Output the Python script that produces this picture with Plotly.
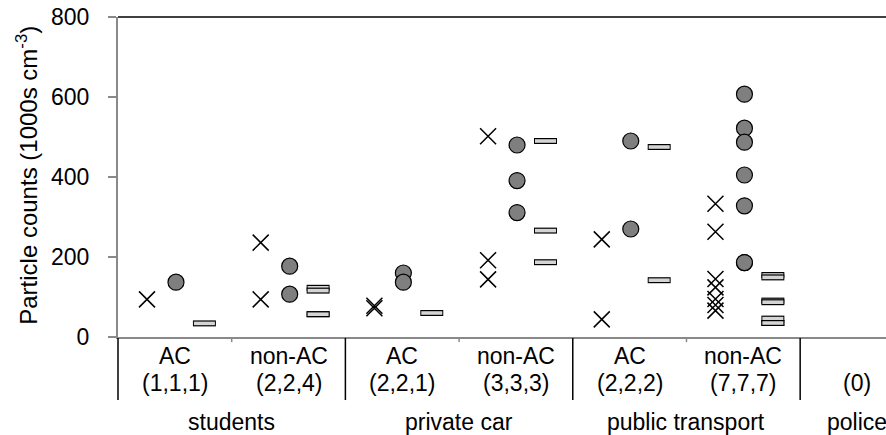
import plotly.graph_objects as go

FONT = "Liberation Sans, Arial, sans-serif"

# ---- data ----
cat_labels = ["AC", "non-AC", "AC", "non-AC", "AC", "non-AC", ""]
n_labels = ["(1,1,1)", "(2,2,4)", "(2,2,1)", "(3,3,3)", "(2,2,2)", "(7,7,7)", "(0)"]
group_labels = ["students", "private car", "public transport", "police"]
group_members = [[0, 1], [2, 3], [4, 5], [6]]

cross_vals = [[94], [236, 94], [78, 72], [502, 192, 144], [244, 44],
              [333, 263, 145, 124, 95, 80, 66], []]
circle_vals = [[137], [177, 107], [160, 137], [480, 391, 311], [490, 270],
               [607, 522, 487, 405, 328, 186, 186], []]
dash_vals = [[34], [123, 116, 57, 57], [60], [490, 266, 187], [475, 142],
             [155, 149, 91, 87, 46, 35, 35], []]

y_ticks = [0, 200, 400, 600, 800]
y_title = "Particle counts (1000s cm<sup>-3</sup>)"

# ---- layout constants ----
X_RANGE = [-0.5, 6.255]
OFF_CROSS, OFF_CIRCLE, OFF_DASH = -0.245, 0.01, 0.26
GRAY = "#898989"
TXT = 23


def flatten(vals, off):
    xs, ys = [], []
    for i, v in enumerate(vals):
        for y in v:
            xs.append(i + off)
            ys.append(y)
    return xs, ys


def xpaper(x):
    return (x - X_RANGE[0]) / (X_RANGE[1] - X_RANGE[0])


fig = go.Figure()

cx, cy = flatten(cross_vals, OFF_CROSS)
fig.add_trace(go.Scatter(x=cx, y=cy, mode="markers",
                         marker=dict(symbol="x-thin", size=16,
                                     line=dict(color="black", width=1.5)),
                         cliponaxis=False, hoverinfo="skip"))

ox, oy = flatten(circle_vals, OFF_CIRCLE)
fig.add_trace(go.Scatter(x=ox, y=oy, mode="markers",
                         marker=dict(symbol="circle", size=16, color="#7f7f7f",
                                     line=dict(color="black", width=1.2)),
                         cliponaxis=False, hoverinfo="skip"))

dx, dy = flatten(dash_vals, OFF_DASH)
# each dash: black outline then light fill, drawn point by point so overlaps stay visible
for xv, yv in zip(dx, dy):
    fig.add_trace(go.Scatter(x=[xv], y=[yv], mode="markers",
                             marker=dict(symbol="line-ew", size=16.4,
                                         line=dict(color="black", width=6)),
                             cliponaxis=False, hoverinfo="skip"))
    fig.add_trace(go.Scatter(x=[xv], y=[yv], mode="markers",
                             marker=dict(symbol="line-ew", size=15,
                                         line=dict(color="#d4d4d4", width=3.6)),
                             cliponaxis=False, hoverinfo="skip"))

shapes = []
# top border
shapes.append(dict(type="line", xref="paper", yref="paper", x0=0, x1=1, y0=1, y1=1,
                   line=dict(color="black", width=1.5)))
# group separators
seps = [-0.5] + [max(m) + 0.5 for m in group_members[:-1]]
for s in seps:
    shapes.append(dict(type="line", xref="paper", yref="paper", x0=xpaper(s), x1=xpaper(s),
                       y0=-0.003, y1=-0.197, line=dict(color="black", width=1.5)))
# minor ticks inside groups
for m in group_members:
    if len(m) > 1:
        t = m[0] + 0.5
        shapes.append(dict(type="line", xref="paper", yref="paper", x0=xpaper(t), x1=xpaper(t),
                           y0=0, y1=-0.016, line=dict(color=GRAY, width=1.5)))

annotations = []
for i, (c, n) in enumerate(zip(cat_labels, n_labels)):
    if c:
        annotations.append(dict(x=i, y=-0.06, xref="x", yref="paper", text=c,
                                showarrow=False, yanchor="middle", xanchor="center"))
    annotations.append(dict(x=i, y=-0.145, xref="x", yref="paper", text=n,
                            showarrow=False, yanchor="middle", xanchor="center"))
for g, m in zip(group_labels, group_members):
    annotations.append(dict(x=sum(m) / len(m), y=-0.265, xref="x", yref="paper", text=g,
                            showarrow=False, yanchor="middle", xanchor="center"))
annotations.append(dict(x=-0.118, y=0.505, xref="paper", yref="paper", text=y_title,
                        textangle=-90, showarrow=False, xanchor="center", yanchor="middle",
                        font=dict(size=24)))

fig.update_layout(
    width=886, height=435,
    margin=dict(l=118, r=0, t=17, b=98),
    plot_bgcolor="white", paper_bgcolor="white",
    showlegend=False, hovermode=False,
    font=dict(family=FONT, size=TXT, color="black"),
    shapes=shapes, annotations=annotations,
    xaxis=dict(range=X_RANGE, showline=True, linecolor=GRAY, linewidth=2,
               showgrid=False, zeroline=False, showticklabels=False, ticks=""),
    yaxis=dict(range=[0, 800], tickvals=y_ticks, ticks="outside", ticklen=8,
               tickwidth=1.5, tickcolor=GRAY, showline=True, linecolor=GRAY,
               linewidth=2, showgrid=False, zeroline=False, ticklabelstandoff=14,
               tickfont=dict(size=TXT)),
)

fig.write_html("out.html",
               config={"displayModeBar": False, "staticPlot": True},
               post_script="document.body.style.margin='0';"
                           "document.body.style.overflow='hidden';")
